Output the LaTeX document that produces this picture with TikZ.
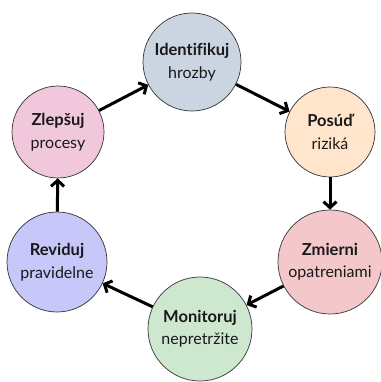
\documentclass[tikz,border=0pt]{standalone}
\usepackage{fontspec}
\setmainfont{Lato}[Ligatures=NoCommon]
\usetikzlibrary{arrows.meta}
\definecolor{cIdent}{RGB}{203,213,226}
\definecolor{cPosud}{RGB}{254,229,204}
\definecolor{cZmier}{RGB}{244,200,202}
\definecolor{cMonit}{RGB}{205,232,207}
\definecolor{cRevid}{RGB}{199,199,250}
\definecolor{cZleps}{RGB}{241,200,219}
\definecolor{txt}{RGB}{25,25,25}
\tikzset{
  stage/.style={circle, draw=black!80, line width=0.7pt, inner sep=0pt, align=center,
    text=txt, font=\fontsize{16}{22.5}\selectfont},
  flow/.style={-{Straight Barb[length=6pt,width=13pt]}, line width=3pt, black}
}
\newcommand{\hd}[1]{{\bfseries\fontsize{16.5}{22.5}\selectfont #1}}
\begin{document}
\begin{tikzpicture}[x=1pt,y=-1pt]
\useasboundingbox (0,0) rectangle (380,382);
\node[stage, fill=cIdent, minimum size=98pt] (ident) at (192,62) {\hd{Identifikuj}\\hrozby};
\node[stage, fill=cPosud, minimum size=90pt] (posud) at (330,132) {\hd{Posúď}\\riziká};
\node[stage, fill=cZmier, minimum size=104pt] (zmier) at (330,262) {\hd{Zmierni}\\opatreniami};
\node[stage, fill=cMonit, minimum size=104pt] (monit) at (200,329) {\hd{Monitoruj}\\nepretržite};
\node[stage, fill=cRevid, minimum size=100pt] (revid) at (57,262) {\hd{Reviduj}\\pravidelne};
\node[stage, fill=cZleps, minimum size=92pt] (zleps) at (58,132) {\hd{Zlepšuj}\\procesy};
\draw[flow] (zleps) -- (ident);
\draw[flow] (ident) -- (posud);
\draw[flow] (posud) -- (zmier);
\draw[flow] (zmier) -- (monit);
\draw[flow] (monit) -- (revid);
\draw[flow] (revid) -- (zleps);
\end{tikzpicture}
\end{document}
